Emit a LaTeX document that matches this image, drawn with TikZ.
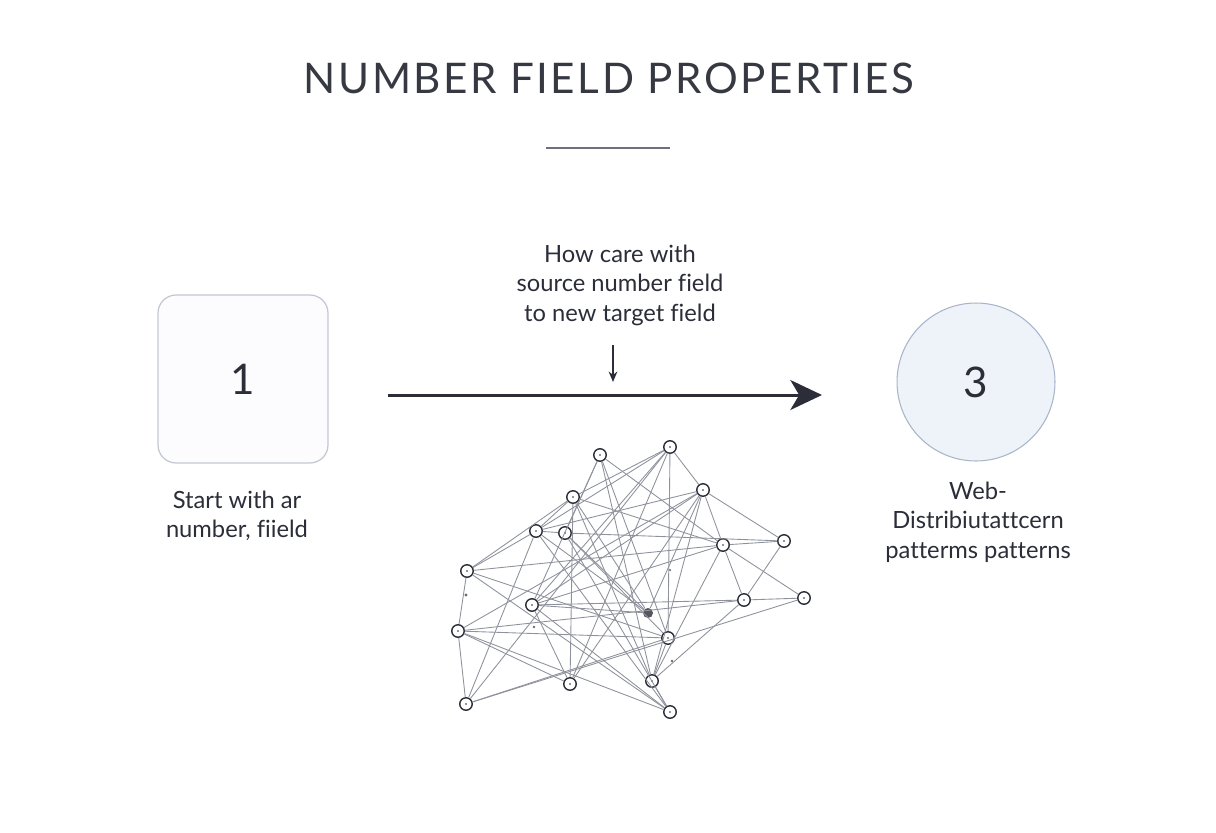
\documentclass[tikz,border=0pt]{standalone}
\usepackage{fontspec}
\setmainfont{Lato}[Ligatures=NoCommon]
\usetikzlibrary{arrows.meta}
\usetikzlibrary{positioning}

\definecolor{inkdark}{HTML}{2B2D38}
\definecolor{boxline}{HTML}{C3C7D2}
\definecolor{boxfill}{HTML}{FCFCFE}
\definecolor{circfill}{HTML}{EEF2F9}
\definecolor{circline}{HTML}{A9B5CA}
\definecolor{webline}{HTML}{8F929C}
\definecolor{ruleline}{HTML}{6E717C}

\begin{document}
\begin{tikzpicture}[x=0.02cm, y=-0.02cm,
    webnode/.style={circle, draw=inkdark, fill=white, line width=0.8pt,
      minimum size=0.25cm, inner sep=0pt,
      path picture={\fill[inkdark] (path picture bounding box.center) circle (0.45pt);}},
    hubdot/.style={circle, fill=inkdark!80, minimum size=0.2cm, inner sep=0pt},
    webedge/.style={draw=webline, line width=0.5pt},
    caption/.style={align=center, text=inkdark, font=\fontsize{13.5}{16.8}\selectfont},
    bignum/.style={text=inkdark, font=\fontsize{24}{28}\selectfont}]
  \useasboundingbox (0,0) rectangle (1216,832);
  % title and rule
  \node[text=inkdark!95, font=\fontsize{24}{28}\selectfont\addfontfeatures{LetterSpace=6}] (title) at (609,78) {NUMBER FIELD PROPERTIES};
  \draw[ruleline, line width=0.6pt] (546,148) -- (670,148);

  % step 1 and step 3
  \node[bignum, draw=boxline, fill=boxfill, line width=0.7pt, rounded corners=0.36cm,
    minimum width=3.4cm, minimum height=3.36cm] (box1) at (243,379) {1};
  \node[caption] (cap1) at (237,516) {Start with ar\\number, fiield};
  \node[bignum, circle, draw=circline, fill=circfill, line width=0.6pt,
    minimum size=3.16cm] (circ3) at (976,382) {3};
  \node[caption] (cap3) at (978,522) {Web-\\Distribiutattcern\\patterms patterns};

  % main arrow
  \coordinate (arrstart) at (388,395);
  \coordinate (arrend) at (822,395);
  \draw[inkdark, line width=1.7pt, -{Stealth[length=18pt, width=17pt, inset=5pt]}] (arrstart) -- (arrend);
  \node[caption] (howtext) at (620,285) {How care with\\source number field\\to new target field};
  \coordinate (dropstart) at (613,345);
  \coordinate (dropend) at (613,382);
  \draw[inkdark, line width=0.8pt, -{Stealth[length=6pt, width=5pt]}] (dropstart) -- (dropend);

  % web of fields
  \node[webnode] (na) at (600,455) {};
  \node[webnode] (nb) at (670,447) {};
  \node[webnode] (nc) at (703,490) {};
  \node[webnode] (nd) at (573,497) {};
  \node[webnode] (ne) at (536,531) {};
  \node[webnode] (nf) at (565,533) {};
  \node[webnode] (ng) at (723,545) {};
  \node[webnode] (nh) at (784,541) {};
  \node[webnode] (ni) at (467,571) {};
  \node[webnode] (nj) at (532,605) {};
  \node[webnode] (nk) at (458,631) {};
  \node[webnode] (nl) at (744,600) {};
  \node[webnode] (nm) at (804,598) {};
  \node[webnode] (nn) at (668,638) {};
  \node[webnode] (no) at (570,684) {};
  \node[webnode] (np) at (652,681) {};
  \node[webnode] (nq) at (466,704) {};
  \node[webnode] (nr) at (670,712) {};
  \node[hubdot] (hub) at (648,613) {};
  \foreach \u/\v in {na/nf, na/ng, na/nn, na/nj, na/np,
      nb/nd, nb/nc, nb/nj, nb/no, nb/nn, nb/nq, nb/ne,
      nc/ne, nc/ng, nc/nh, nc/nk, nc/hub, nc/np, nc/no, nc/nj,
      nd/ne, nd/no, nd/ng, nd/np, nd/ni, nd/hub,
      ne/nq, ne/nr, ne/nf, ne/ni, ne/hub,
      nf/hub, nf/nh, nf/nn, nf/nr,
      ng/nh, ng/nm, ng/np, ng/nl, ng/nj, ng/ni,
      nh/nl, ni/nk, ni/nr, ni/nn,
      nj/nl, nj/hub, nj/no, nj/nr,
      nk/nn, nk/nr, nk/nq, nk/nl,
      nl/nm, nl/np, nm/nq, nn/np, nn/nq, np/nr, no/nk}
    \draw[webedge] (\u) -- (\v);
  % stray dots
  \fill[inkdark!70] (466,595) circle (0.9pt);
  \fill[inkdark!70] (534,627) circle (0.8pt);
  \fill[inkdark!70] (672,661) circle (0.8pt);
  \fill[inkdark!70] (670,570) circle (0.7pt);
\end{tikzpicture}
\end{document}
